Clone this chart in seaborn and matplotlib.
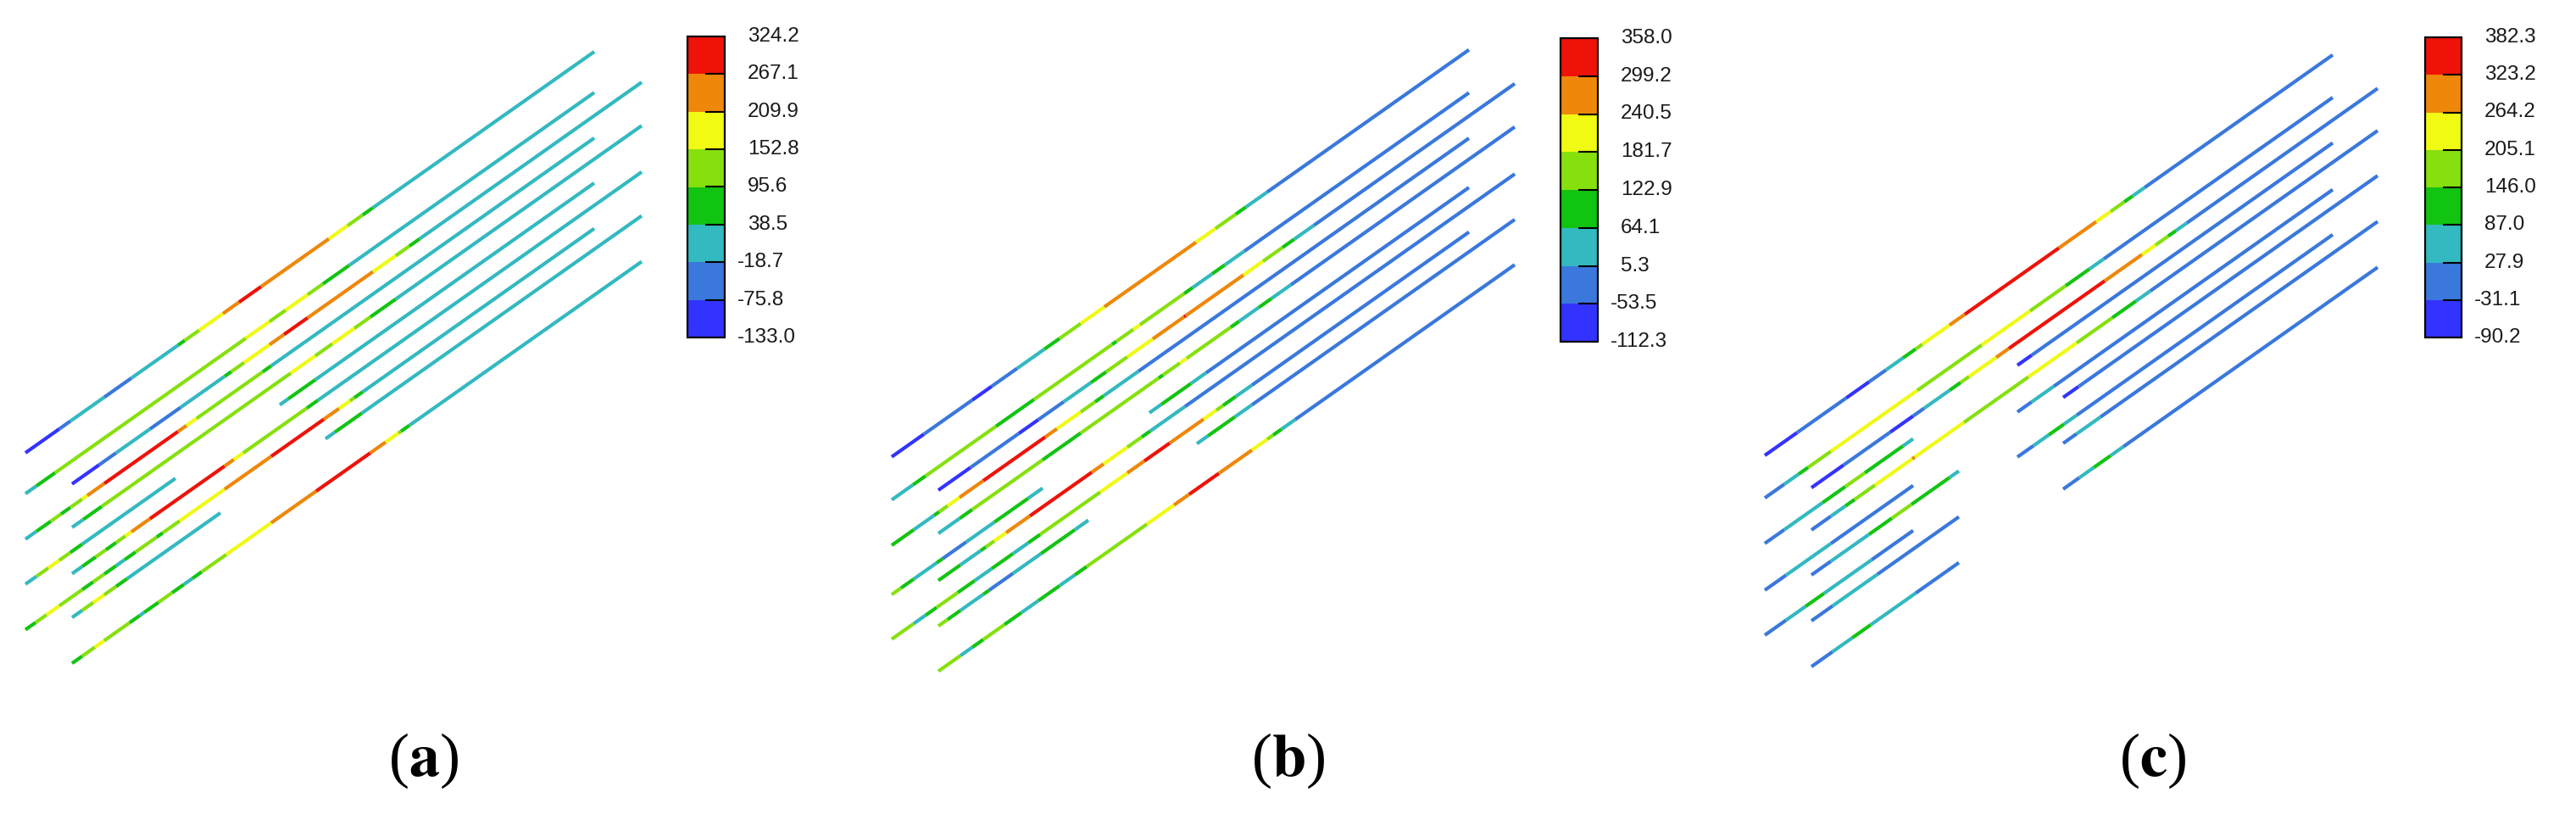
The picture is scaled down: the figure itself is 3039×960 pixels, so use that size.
import numpy as np
import matplotlib
matplotlib.use("Agg")
import matplotlib.pyplot as plt
import seaborn as sns
from matplotlib.collections import LineCollection
from matplotlib.colors import ListedColormap, BoundaryNorm

sns.set_theme(style="white")
plt.rcParams['font.family'] = ['Liberation Sans', 'DejaVu Sans']
plt.rcParams['mathtext.fontset'] = 'stix'

W, H = 3039, 960
SLOPE = 0.705  # all rows run at the same angle

# contour levels (colour bar values) for each case
levels_a = [-133.0, -75.8, -18.7, 38.5, 95.6, 152.8, 209.9, 267.1, 324.2]
levels_b = [-112.3, -53.5, 5.3, 64.1, 122.9, 181.7, 240.5, 299.2, 358.0]
levels_c = [-90.2, -31.1, 27.9, 87.0, 146.0, 205.1, 264.2, 323.2, 382.3]

# band colours, lowest to highest
band_colors = ['#3333ff', '#3a78dc', '#33b9c0', '#12c412',
               '#86e00e', '#f0fa12', '#ee870a', '#ee1209']

# row intercepts of the ten anchors in each case
rows_a = [555.2, 603.4, 630.7, 657.0, 681.9, 710.1, 736.5, 763.8, 788.2, 842.2]
rows_b = [554.3, 605.0, 632.4, 658.6, 683.4, 716.7, 738.9, 769.3, 792.6, 845.9]
rows_c = [552.6, 602.8, 629.5, 656.4, 679.3, 711.5, 732.4, 764.6, 786.5, 840.5]

# break points along each anchor and the contour band between them (None = no anchor)
breaks_a = [
    [30, 70, 83, 123, 155, 210, 218, 235, 263, 282, 308, 388, 410, 428, 440, 701],
    [30, 43, 65, 290, 318, 337, 363, 381, 412, 701],
    [85, 117, 137, 177, 213, 265, 273, 288, 318, 335, 363, 440, 467, 483, 495, 757],
    [30, 43, 60, 72, 83, 97, 103, 123, 210, 220, 232, 310, 320, 701],
    [85, 98, 120, 343, 372, 392, 418, 437, 467, 757],
    [30, 43, 57, 70, 83, 97, 207, 330, 340, 372, 701],
    [85, 97, 113, 125, 137, 148, 155, 177, 265, 276, 287, 362, 375, 757],
    [30, 42, 55, 70, 97, 110, 123, 137, 147, 160, 185, 192, 212, 265, 320, 382, 400, 413, 418, 428, 701],
    [85, 97, 110, 123, 137, 150, 260, 384, 395, 427, 757],
    [85, 97, 112, 123, 153, 165, 170, 187, 203, 217, 227, 238, 267, 320, 373, 437, 455, 470, 473, 483, 757],
]
bands_a = [
    [0, 1, 2, 1, 2, 3, 4, 5, 6, 7, 6, 5, 4, 3, 2],
    [2, 3, 4, 5, 4, 5, 4, 3, 2],
    [0, 1, 2, 1, 2, 3, 4, 5, 6, 7, 6, 5, 4, 3, 2],
    [2, 3, 4, 3, 4, 5, 6, 7, 6, 5, 4, 3, 2],
    [2, 3, 4, 5, 4, 5, 4, 3, 2],
    [2, 4, 5, 4, 3, 2, None, 2, 3, 2],
    [2, 3, 4, 3, 4, 5, 6, 7, 6, 5, 4, 3, 2],
    [3, 4, 5, 4, 3, 4, 3, 2, 3, 4, 3, 4, 5, 6, 7, 6, 5, 4, 3, 2],
    [2, 4, 5, 4, 3, 2, None, 2, 3, 2],
    [3, 4, 5, 4, 3, 2, 3, 4, 3, 2, 3, 4, 5, 6, 7, 6, 5, 4, 3, 2],
]

breaks_b = [
    [22, 60, 117, 140, 170, 202, 220, 245, 273, 381, 404, 428, 440, 465, 703],
    [22, 47, 62, 145, 190, 282, 287, 307, 315, 367, 377, 400, 415, 438, 703],
    [77, 115, 172, 195, 225, 257, 275, 300, 330, 367, 369, 437, 460, 483, 497, 520, 757],
    [22, 48, 72, 78, 88, 102, 130, 203, 217, 245, 262, 272, 313, 703],
    [77, 102, 117, 200, 245, 337, 342, 362, 370, 422, 432, 455, 470, 493, 757],
    [22, 33, 48, 75, 82, 110, 143, 183, 200, 326, 340, 375, 393, 703],
    [77, 103, 127, 133, 143, 157, 185, 258, 272, 300, 317, 327, 368, 757],
    [22, 48, 62, 75, 100, 120, 140, 165, 183, 197, 268, 300, 320, 350, 390, 405, 413, 428, 447, 703],
    [77, 88, 103, 130, 137, 165, 198, 238, 254, 382, 395, 427, 447, 757],
    [77, 103, 117, 130, 155, 175, 195, 220, 238, 252, 323, 355, 373, 408, 447, 465, 472, 482, 498, 757],
]
bands_b = [
    [0, 1, 0, 1, 2, 3, 4, 5, 6, 5, 4, 3, 2, 1],
    [2, 3, 4, 3, 4, 3, 4, 5, 4, 3, 2, 3, 2, 1],
    [0, 1, 0, 1, 2, 3, 4, 5, 6, 7, 6, 5, 4, 3, 2, 1],
    [3, 2, 3, 4, 5, 6, 7, 6, 5, 4, 3, 2, 1],
    [2, 3, 4, 3, 4, 3, 4, 5, 4, 3, 2, 3, 2, 1],
    [4, 3, 2, 3, 1, 2, 3, 2, None, 2, 3, 2, 1],
    [3, 2, 3, 4, 5, 6, 7, 6, 5, 4, 3, 2, 1],
    [4, 2, 3, 4, 3, 2, 3, 2, 3, 4, 5, 6, 7, 6, 5, 4, 3, 2, 1],
    [4, 3, 2, 3, 1, 2, 3, 2, None, 2, 3, 2, 1],
    [4, 2, 3, 4, 3, 2, 3, 2, 3, 4, 5, 6, 7, 6, 5, 4, 3, 2, 1],
]

breaks_c = [
    [22, 60, 118, 145, 165, 185, 200, 208, 240, 258, 369, 413, 430, 446, 456, 470, 692],
    [22, 45, 62, 73, 100, 202, 278, 335, 377, 405, 422, 692],
    [77, 115, 170, 197, 210, 240, 253, 263, 295, 310, 423, 467, 483, 498, 507, 520, 745],
    [22, 45, 90, 117, 140, 185, 197, 320, 337, 692],
    [77, 100, 117, 128, 152, 196, 199, 257, 333, 390, 432, 460, 477, 745],
    [22, 47, 100, 197, 320, 337, 363, 692],
    [77, 100, 145, 172, 195, 240, 251, 374, 392, 745],
    [22, 47, 70, 92, 148, 197, 320, 339, 357, 375, 390, 692],
    [77, 102, 155, 251, 374, 390, 418, 745],
    [77, 102, 125, 147, 200, 251, 374, 393, 410, 430, 445, 745],
]
bands_c = [
    [0, 1, 0, 1, 2, 3, 4, 5, 6, 7, 6, 5, 4, 3, 2, 1],
    [1, 2, 3, 4, 5, 4, 5, 4, 3, 2, 1],
    [0, 1, 0, 1, 2, 3, 4, 5, 6, 7, 6, 5, 4, 3, 2, 1],
    [1, 2, 3, 4, 3, 2, None, 0, 1],
    [1, 2, 3, 4, 5, 6, 5, 4, 5, 4, 3, 2, 1],
    [1, 2, 1, None, 1, 2, 1],
    [1, 2, 3, 4, 3, 2, None, 0, 1],
    [1, 2, 3, 2, 1, None, 1, 2, 3, 2, 1],
    [1, 2, 1, None, 1, 2, 1],
    [1, 2, 3, 2, 1, None, 1, 2, 3, 2, 1],
]


def draw_panel(fig, x0, levels, rows, breaks, bands, label, cb_box, label_x):
    ax = fig.add_axes([x0 / W, 0, 780 / W, 1])
    ax.set_xlim(0, 780)
    ax.set_ylim(H, 0)
    ax.axis('off')

    cmap = ListedColormap(band_colors)
    norm = BoundaryNorm(levels, cmap.N)
    mids = [(lo + hi) / 2 for lo, hi in zip(levels[:-1], levels[1:])]

    segs, vals = [], []
    for b, xs, cs in zip(rows, breaks, bands):
        for xa, xb, c in zip(xs[:-1], xs[1:], cs):
            if c is None:
                continue
            segs.append([(xa, b - SLOPE * xa), (xb, b - SLOPE * xb)])
            vals.append(mids[c])
    lc = LineCollection(segs, cmap=cmap, norm=norm, linewidths=3.0, capstyle='butt')
    lc.set_array(np.array(vals))
    ax.add_collection(lc)

    ax.text(label_x, 897, r'($\mathbf{' + label + '}$)', ha='center', va='center',
            fontsize=52, family='Liberation Serif', color='black')

    # colour bar with short inner ticks on the band edges
    left, top, width, height = cb_box
    cax = fig.add_axes([left / W, 1 - (top + height) / H, width / W, height / H])
    cb = fig.colorbar(lc, cax=cax)
    cb.set_ticks([])
    cax.minorticks_off()
    cb.outline.set_linewidth(1.6)
    cb.outline.set_edgecolor('black')
    n = len(levels) - 1
    for i in range(1, n):
        cax.plot([0.48, 1.0], [i / n, i / n], transform=cax.transAxes,
                 color='black', lw=1.5, solid_capstyle='butt')
    for i, v in enumerate(levels):
        dx = 15 if v < 0 else 27
        cax.annotate(f"{v:.1f}", xy=(1, i / n), xycoords='axes fraction',
                     xytext=(dx, 0), textcoords='offset pixels',
                     ha='left', va='center', fontsize=17.5, color='#1a1a1a')


fig = plt.figure(figsize=(W / 100, H / 100), dpi=100)
fig.patch.set_facecolor('white')

draw_panel(fig, 0, levels_a, rows_a, breaks_a, bands_a, 'a', (811, 43, 44, 355), 500)
draw_panel(fig, 1030, levels_b, rows_b, breaks_b, bands_b, 'b', (1841, 45, 44, 358), 490)
draw_panel(fig, 2060, levels_c, rows_c, breaks_c, bands_c, 'c', (2861, 44, 43, 354), 480)

fig.savefig('out.png', dpi=100, facecolor='white')
